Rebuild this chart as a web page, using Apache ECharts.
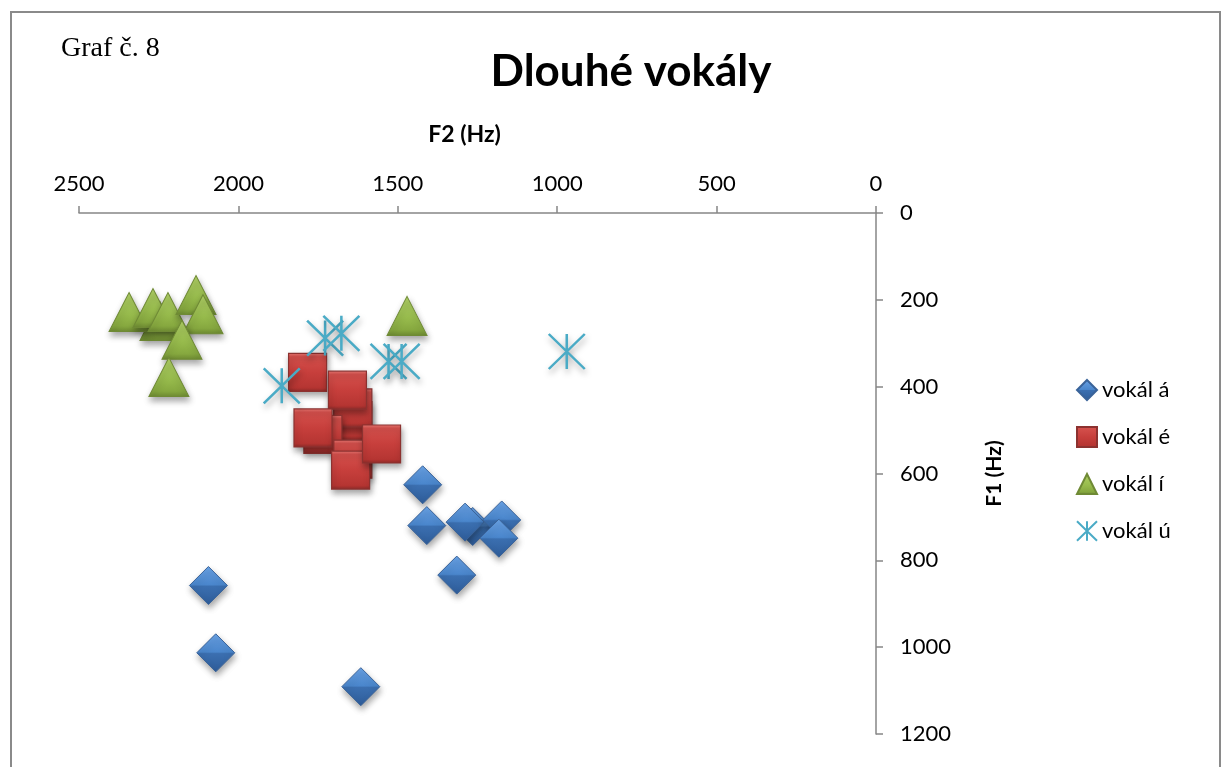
<!DOCTYPE html>
<html>
<head>
<meta charset="utf-8">
<script src="https://cdn.jsdelivr.net/npm/echarts@6/dist/echarts.min.js"></script>
<style>
html,body{margin:0;padding:0;background:#fff;}
#chart{width:1226px;height:767px;}
</style>
</head>
<body>
<div id="chart"></div>
<script>
// Data (F2 = x, F1 = y), both in Hz
const seriesNames = ['vokál á', 'vokál é', 'vokál í', 'vokál ú'];
const xTicks = [0, 500, 1000, 1500, 2000, 2500];
const yTicks = [0, 200, 400, 600, 800, 1000, 1200];

const aF2 = [1422, 1409, 1265, 1289, 1174, 1183, 1315, 2094, 2071, 1616];
const aF1 = [626, 720, 722, 712, 707, 749, 834, 858, 1013, 1091];

const eF2 = [1783, 1641, 1641, 1658, 1735, 1766, 1641, 1648, 1551];
const eF1 = [367, 478, 449, 408, 510, 495, 567, 592, 532];

const iF2 = [2246, 2343, 2268, 2221, 2133, 2111, 2177, 2218, 1471];
const iF1 = [249, 228, 219, 228, 189, 233, 292, 378, 237];

const uF2 = [1864, 1728, 1677, 1529, 1488, 970];
const uF1 = [398, 288, 277, 342, 342, 319];

function pairs(xs, ys) { return xs.map((x, i) => [x, ys[i]]); }

const FONT = 'Lato';
const shadow = { shadowBlur: 6, shadowOffsetX: 1, shadowOffsetY: 4, shadowColor: 'rgba(0,0,0,0.35)', opacity: 1 };
function lin(stops) {
  return { type: 'linear', x: 0, y: 0, x2: 0, y2: 1, colorStops: stops.map(s => ({ offset: s[0], color: s[1] })) };
}
const starPath = 'path://M0 0L36 35M36 0L0 35M18 0L18 35';

const chart = echarts.init(document.getElementById('chart'), null, { renderer: 'canvas' });
chart.setOption({
  animation: false,
  backgroundColor: '#fff',
  grid: { left: 79, right: 350, top: 213, bottom: 33, containLabel: false, outerBoundsMode: 'none' },
  graphic: [
    { type: 'rect', shape: { x: 11, y: 12, width: 1209, height: 800 }, style: { fill: 'none', stroke: '#8a8a8a', lineWidth: 2 }, silent: true },
    { type: 'text', style: { text: 'Graf č. 8', x: 61, y: 49, font: '28px "Liberation Serif"', fill: '#000', textAlign: 'left', textVerticalAlign: 'middle' } },
    { type: 'text', style: { text: 'Dlouhé vokály', x: 631, y: 72, font: 'bold 44px Lato', fill: '#000', textAlign: 'center', textVerticalAlign: 'middle' } }
  ],
  legend: {
    orient: 'vertical', left: 1071, top: 374, itemWidth: 20, itemHeight: 20, itemGap: 25,
    textStyle: { fontFamily: FONT, fontSize: 22, color: '#000', lineHeight: 20 },
    itemStyle: { shadowBlur: 0, shadowOffsetX: 0, shadowOffsetY: 0, shadowColor: 'rgba(0,0,0,0)' },
    data: seriesNames
  },
  xAxis: {
    type: 'value', position: 'top', inverse: true, min: 0, max: 2500, interval: 500,
    name: 'F2 (Hz)', nameLocation: 'middle', nameGap: 67,
    nameTextStyle: { fontFamily: FONT, fontWeight: 'bold', fontSize: 23, color: '#000', padding: [0, 26, 0, 0] },
    axisLine: { show: true, onZero: false, lineStyle: { color: '#868686', width: 1.5 } },
    axisTick: { show: true, length: 7, lineStyle: { color: '#868686', width: 1.5 } },
    axisLabel: { margin: 18, fontFamily: FONT, fontSize: 22, color: '#000', formatter: v => xTicks.includes(v) ? String(v) : '' },
    splitLine: { show: false }
  },
  yAxis: {
    type: 'value', position: 'right', inverse: true, min: 0, max: 1200, interval: 200,
    name: 'F1 (Hz)', nameLocation: 'middle', nameGap: 108, nameRotate: 90,
    nameTextStyle: { fontFamily: FONT, fontWeight: 'bold', fontSize: 21, color: '#000' },
    axisLine: { show: true, onZero: false, lineStyle: { color: '#868686', width: 1.5 } },
    axisTick: { show: true, length: 7, lineStyle: { color: '#868686', width: 1.5 } },
    axisLabel: { margin: 24, fontFamily: FONT, fontSize: 22, color: '#000', formatter: v => yTicks.includes(v) ? String(v) : '' },
    splitLine: { show: false }
  },
  series: [
    {
      name: seriesNames[0], type: 'scatter', symbol: 'diamond', symbolSize: [38, 38],
      data: pairs(aF2, aF1),
      itemStyle: Object.assign({
        color: lin([[0, '#6aa3e6'], [0.48, '#4a86cc'], [0.52, '#3b6fb0'], [1, '#2e5c99']]),
        borderColor: '#3a6399', borderWidth: 1
      }, shadow)
    },
    {
      name: seriesNames[1], type: 'scatter', symbol: 'rect', symbolSize: [38, 38],
      data: pairs(eF2, eF1),
      itemStyle: Object.assign({
        color: lin([[0, '#ea7a75'], [0.1, '#d4504c'], [0.5, '#c73f3c'], [0.9, '#b53532'], [1, '#8a2a28']]),
        borderColor: '#8c3230', borderWidth: 1.2
      }, shadow)
    },
    {
      name: seriesNames[2], type: 'scatter', symbol: 'triangle', symbolSize: [40, 39],
      data: pairs(iF2, iF1),
      itemStyle: Object.assign({
        color: lin([[0, '#b0d066'], [0.55, '#98bc4d'], [0.85, '#86a83f'], [1, '#6d8a32']]),
        borderColor: '#6f8a35', borderWidth: 1
      }, shadow)
    },
    {
      name: seriesNames[3], type: 'scatter', symbol: starPath, symbolSize: [36, 35],
      data: pairs(uF2, uF1),
      itemStyle: Object.assign({
        color: 'rgba(0,0,0,0)', borderColor: '#4aabc6', borderWidth: 2.5
      }, shadow)
    }
  ]
});
</script>
</body>
</html>
